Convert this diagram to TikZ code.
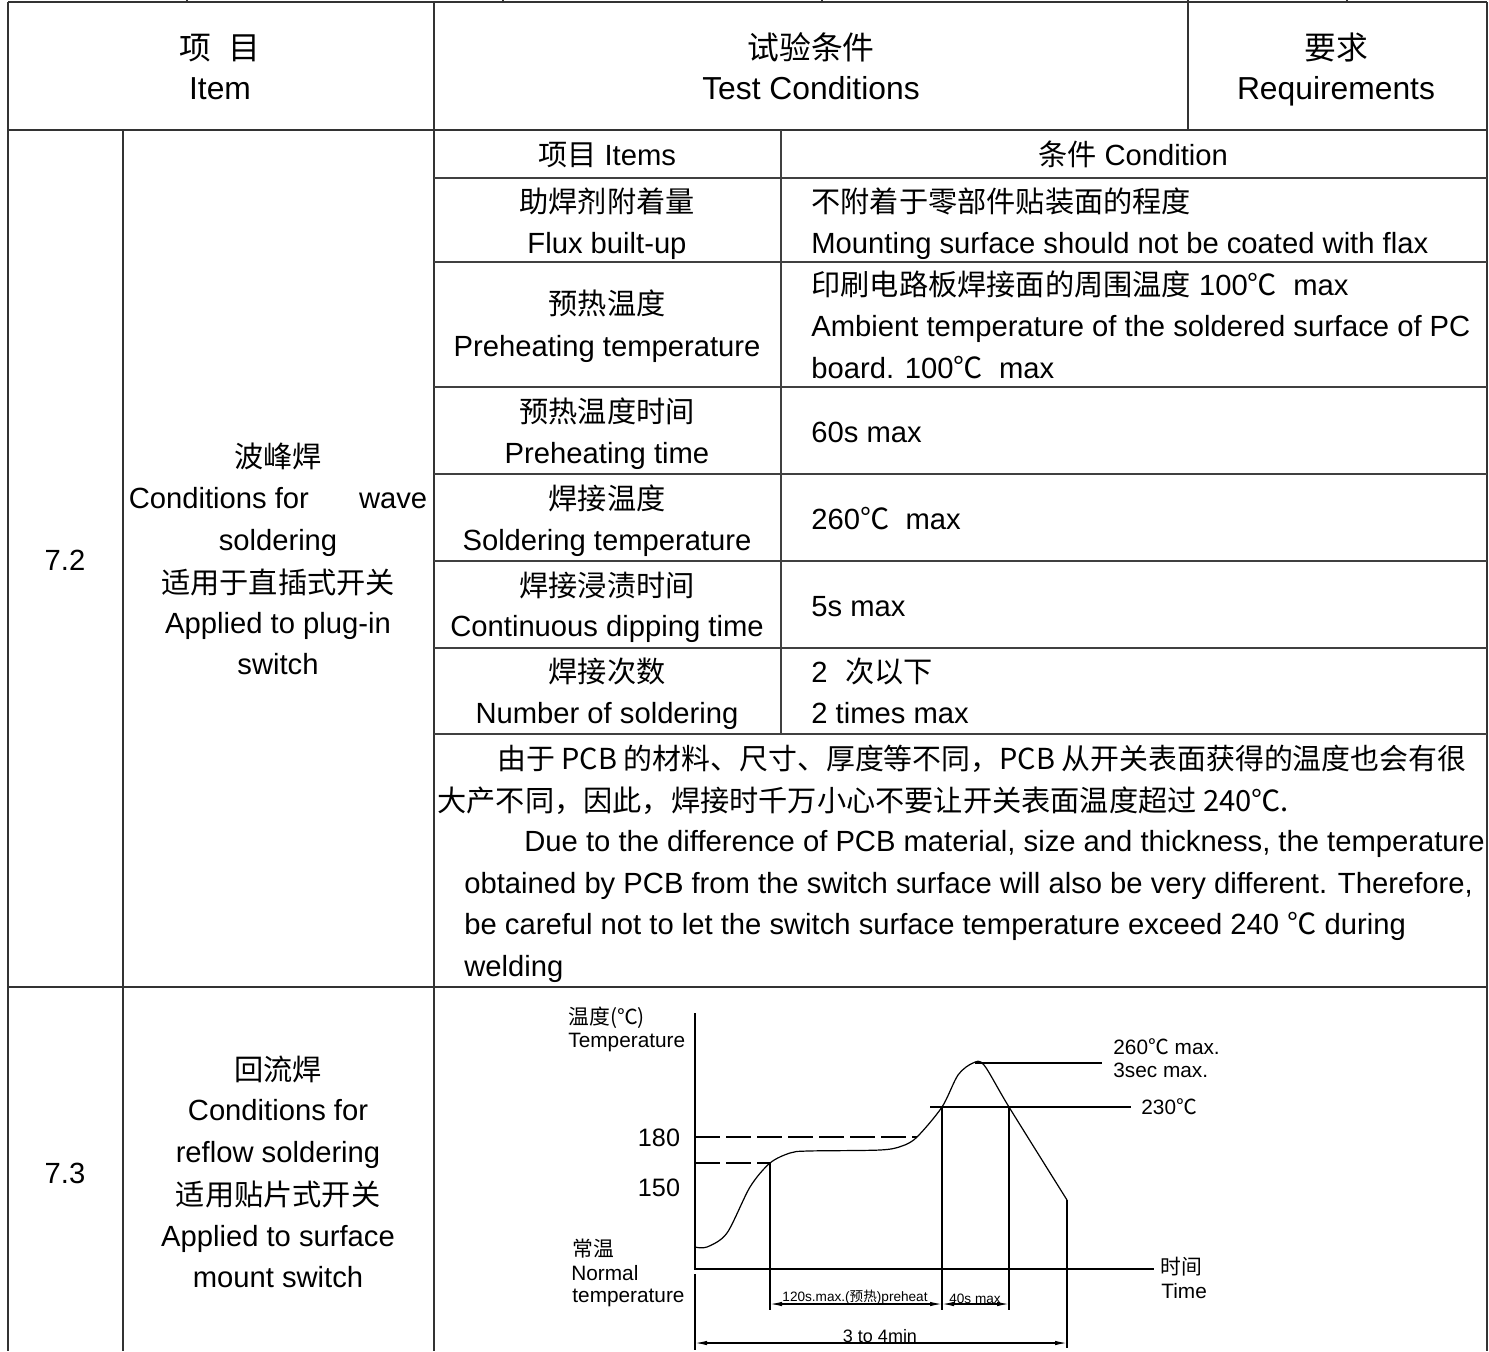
\documentclass[tikz,border=0pt]{standalone}
\usepackage{fontspec}
\setmainfont{Liberation Sans}
\newfontfamily\cjk{Noto Sans CJK SC}
\usetikzlibrary{arrows.meta}
\newcommand{\zh}[1]{{\cjk #1}}
\newcommand{\degC}{\zh{℃}}
\newcommand{\bodySize}{\fontsize{14.6}{17}\selectfont}
\newcommand{\headSize}{\fontsize{15.9}{18}\selectfont}
\newcommand{\chartSize}{\fontsize{10.4}{12}\selectfont}

\begin{document}
\begin{tikzpicture}[x=0.5pt, y=-0.5pt,
    txt/.style={font=\bodySize, inner sep=0pt, anchor=base},
    txtl/.style={txt, anchor=base west},
    head/.style={txt, font=\headSize},
    grid/.style={black!80, line width=1pt},
    thin grid/.style={black!75, line width=0.7pt},
    chart/.style={black, line width=0.6pt},
    lbl/.style={font=\chartSize, inner sep=0pt, anchor=west},
    dim/.style={chart, {Latex[length=6pt,width=2.2pt]}-{Latex[length=6pt,width=2.2pt]}}]

   \useasboundingbox (0,0) rectangle (1489,1351);
   \fill[white] (0,0) rectangle (1489,1351);

   % table frame
   \draw[grid] (8,2) -- (1487,2);
   \foreach \x in {187,503,822,1188,1347}
   {%
      \draw[grid] (\x,0) -- (\x,2);
   }
   \draw[grid] (8,2) -- (8,1351);
   \draw[grid] (1487,2) -- (1487,1351);
   \draw[grid] (8,130) -- (1487,130);
   \draw[grid] (8,987) -- (1487,987);
   \draw[grid] (434,2) -- (434,1351);
   \draw[grid] (1188,2) -- (1188,130);
   \draw[grid] (123,130) -- (123,1351);

   \foreach \y in {178,262,387,474,561,648,734}
   {%
      \draw[thin grid] (434,\y) -- (1487,\y);
   }
   \draw[thin grid] (781,130) -- (781,734);

   % header
   \node[head] (itemZh) at (220,59) {\zh{项\hspace{0.55em}目}};
   \node[head] (itemEn) at (220,99) {Item};
   \node[head] (testZh) at (811,59) {\zh{试验条件}};
   \node[head] (testEn) at (811,99) {Test Conditions};
   \node[head] (reqZh) at (1336,59) {\zh{要求}};
   \node[head] (reqEn) at (1336,99) {Requirements};

   % 7.2 wave soldering
   \node[txt] (noWave) at (65,570) {7.2};
   \node[txt] (waveA) at (278,467) {\zh{波峰焊}};
   \node[txt] (waveB) at (278,508) {Conditions for\hspace{21pt} wave};
   \node[txt] (waveC) at (278,550) {soldering};
   \node[txt] (waveD) at (278,593) {\zh{适用于直插式开关}};
   \node[txt] (waveE) at (278,633) {Applied to plug-in};
   \node[txt] (waveF) at (278,674) {switch};

   \node[txt] (colItems) at (607,165) {\zh{项目} Items};
   \node[txt] (colCond) at (1133,165) {\zh{条件} Condition};

   \node[txt] (fluxZh) at (607,212) {\zh{助焊剂附着量}};
   \node[txt] (fluxEn) at (607,253) {Flux built-up};
   \node[txtl] (fluxCondZh) at (811,212) {\zh{不附着于零部件贴装面的程度}};
   \node[txtl] (fluxCondEn) at (811,253) {Mounting surface should not be coated with flax};

   \node[txt] (preTempZh) at (607,314) {\zh{预热温度}};
   \node[txt] (preTempEn) at (607,356) {Preheating temperature};
   \node[txtl] (preTempA) at (811,295) {\zh{印刷电路板焊接面的周围温度} 100\degC\ \ max};
   \node[txtl] (preTempB) at (811,336) {Ambient temperature of the soldered surface of PC};
   \node[txtl] (preTempC) at (811,378) {board. 100\degC\ \ max};

   \node[txt] (preTimeZh) at (607,422) {\zh{预热温度时间}};
   \node[txt] (preTimeEn) at (607,463) {Preheating time};
   \node[txtl] (preTimeVal) at (811,442) {60s max};

   \node[txt] (solTempZh) at (607,509) {\zh{焊接温度}};
   \node[txt] (solTempEn) at (607,550) {Soldering temperature};
   \node[txtl] (solTempVal) at (811,529) {260\degC\ \ max};

   \node[txt] (dipZh) at (607,596) {\zh{焊接浸渍时间}};
   \node[txt] (dipEn) at (607,636) {Continuous dipping time};
   \node[txtl] (dipVal) at (811,616) {5s max};

   \node[txt] (numZh) at (607,682) {\zh{焊接次数}};
   \node[txt] (numEn) at (607,723) {Number of soldering};
   \node[txtl] (numValZh) at (811,682) {2\hspace{0.6em}\zh{次以下}};
   \node[txtl] (numValEn) at (811,723) {2 times max};

   \node[txtl, font=\fontsize{14.45}{17}\selectfont] (noteA) at (497,769) {\zh{由于 PCB 的材料、尺寸、厚度等不同，PCB 从开关表面获得的温度也会有很}};
   \node[txtl] (noteB) at (437,811) {\zh{大产不同，因此，焊接时千万小心不要让开关表面温度超过 240℃.}};
   \node[txtl] (noteC) at (524,851) {Due to the difference of PCB material, size and thickness, the temperature};
   \node[txtl] (noteD) at (464,893) {obtained by PCB from the switch surface will also be very different. Therefore,};
   \node[txtl] (noteE) at (464,934) {be careful not to let the switch surface temperature exceed 240 \degC\ during};
   \node[txtl] (noteF) at (464,976) {welding};

   % 7.3 reflow soldering
   \node[txt] (noReflow) at (65,1183) {7.3};
   \node[txt] (reflowA) at (278,1080) {\zh{回流焊}};
   \node[txt] (reflowB) at (278,1120) {Conditions for};
   \node[txt] (reflowC) at (278,1162) {reflow soldering};
   \node[txt] (reflowD) at (278,1205) {\zh{适用贴片式开关}};
   \node[txt] (reflowE) at (278,1246) {Applied to surface};
   \node[txt] (reflowF) at (278,1287) {mount switch};

   % reflow profile
   \draw[chart] (695,1013) -- (695,1269) -- (1154,1269);
   \draw[chart] (695,1274) -- (695,1350);
   \draw[chart, dash pattern=on 12.5pt off 3pt] (695,1137) -- (917,1137);
   \draw[chart, dash pattern=on 12.5pt off 3pt] (695,1163) -- (770,1163);
   \draw[chart] plot[smooth, tension=0.5] coordinates {(695,1247) (707,1247) (727,1233)
      (750,1187) (770,1163) (790,1153) (808,1151) (880,1150) (902,1146) (917,1137)
      (942,1107) (958,1075) (973,1063) (984,1065) (1009,1107) (1067,1200)};
   \draw[chart] (975,1063) -- (1102,1063);
   \draw[chart] (930,1107) -- (1131,1107);
   \draw[chart] (770,1163) -- (770,1310);
   \draw[chart] (942,1107) -- (942,1310);
   \draw[chart] (1009,1107) -- (1009,1310);
   \draw[chart] (1067,1200) -- (1067,1348);

   \coordinate (preA) at (770,1304);
   \coordinate (preB) at (942,1304);
   \coordinate (peakB) at (1009,1304);
   \coordinate (totA) at (695,1343);
   \coordinate (totB) at (1067,1343);
   \draw[dim] (preA) -- (preB);
   \draw[dim] (preB) -- (peakB);
   \draw[dim] (totA) -- (totB);

   \node[lbl] (tempZh) at (568,1018) {\zh{温度(℃)}};
   \node[lbl] (tempEn) at (568,1042) {Temperature};
   \node[lbl] (normZh) at (572,1249) {\zh{常温}};
   \node[lbl] (normA) at (571,1273) {Normal};
   \node[lbl] (normB) at (572,1298) {temperature};
   \node[lbl] (timeZh) at (1160,1267) {\zh{时间}};
   \node[lbl] (timeEn) at (1161,1291) {Time};
   \node[lbl] (peakA) at (1113,1047) {260\degC\ max.};
   \node[lbl] (peakT) at (1113,1070) {3sec max.};
   \node[lbl] (liqT) at (1141,1107) {230\degC};
   \node[inner sep=0pt, font=\fontsize{12.6}{14}\selectfont] (t180) at (659,1138) {180};
   \node[inner sep=0pt, font=\fontsize{12.6}{14}\selectfont] (t150) at (659,1188) {150};
   \node[inner sep=0pt, font=\fontsize{6.8}{8}\selectfont] (preLbl) at (855,1297) {120s.max.(\zh{预热})preheat};
   \node[inner sep=0pt, font=\fontsize{6.8}{8}\selectfont] (peakLbl) at (975,1299) {40s max};
   \node[inner sep=0pt, font=\fontsize{9}{11}\selectfont] (totLbl) at (880,1336) {3 to 4min};
\end{tikzpicture}
\end{document}
